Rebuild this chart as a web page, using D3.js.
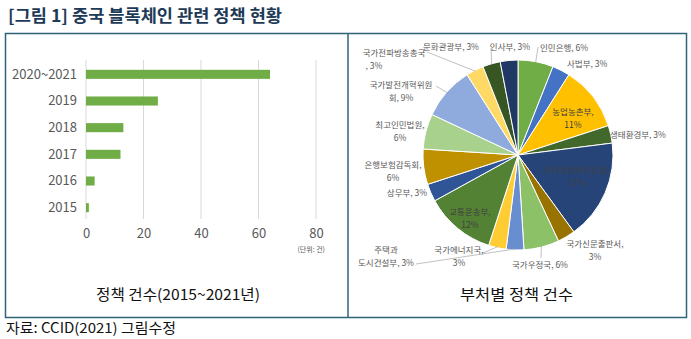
<!DOCTYPE html>
<html><head><meta charset="utf-8">
<script src="https://cdn.jsdelivr.net/npm/d3@7"></script>
<style>
body{margin:0;background:#fff;}
text{font-family:"Noto Sans CJK KR","Noto Sans",sans-serif;}
</style></head>
<body><svg id="c" width="691" height="339"></svg>
<script>
// ---- data ----
const years = ["2020~2021","2019","2018","2017","2016","2015"];
const policyCounts = [64,25,13,12,3,1];
const xTicks = [0,20,40,60,80];

const ministries = ["인민은행","사법부","농업농촌부","생태환경부","인터넷정보판공실","국가신문출판서","국가우정국",
  "주택과 도시건설부","국가에너지국","교통운송부","상무부","은행보험감독회","최고인민법원","국가발전개혁위원회",
  "국가전파방송총국","문화관광부","인사부"];
const shares = [6,3,11,3,17,3,6,3,3,12,3,6,6,9,3,3,3];
const sliceColors = ["#70ad47","#4472c4","#ffc000","#43682b","#264478","#997300","#8cc168",
  "#698ed0","#ffcd33","#548235","#2f5597","#bf9000","#a9d18e","#8faadc","#ffd966","#375623","#203864"];

// ---- layout ----
const svg = d3.select("#c");
svg.append("rect").attr("width",691).attr("height",339).attr("fill","#fff");

svg.append("text").attr("x",8).attr("y",22).attr("font-size",17).attr("font-weight","bold")
  .attr("fill","#1d3a57").attr("textLength",274).attr("lengthAdjust","spacingAndGlyphs")
  .text("[그림 1] 중국 블록체인 관련 정책 현황");

svg.append("rect").attr("x",5.5).attr("y",33.5).attr("width",681).attr("height",284)
  .attr("fill","none").attr("stroke","#2f6479").attr("stroke-width",1.5);
svg.append("line").attr("x1",348).attr("x2",348).attr("y1",33.5).attr("y2",317.5)
  .attr("stroke","#2f6479").attr("stroke-width",1.5);

// ---- bar chart ----
const x = d3.scaleLinear().domain([0,80]).range([86,316]);
const y = d3.scaleBand().domain(years).range([61,221]).paddingInner(0.66).paddingOuter(0.33);

const g = svg.append("g");
g.selectAll(".grid").data(xTicks).join("line")
  .attr("x1",d=>x(d)).attr("x2",d=>x(d)).attr("y1",60).attr("y2",219)
  .attr("stroke","#d9d9d9").attr("stroke-width",1);

const xAxis = d3.axisBottom(x).tickValues(xTicks).tickSize(0).tickPadding(0);
const xa = g.append("g").attr("transform","translate(0,238)").call(xAxis);
xa.select(".domain").remove();
xa.selectAll("text").attr("font-size",13).attr("fill","#595959")
  .attr("font-family","Roboto, 'Noto Sans', sans-serif").attr("dy",0).attr("y",0);

const yAxis = d3.axisLeft(y).tickSize(0).tickPadding(0);
const ya = g.append("g").attr("transform","translate(77,0)").call(yAxis);
ya.select(".domain").remove();
ya.selectAll("text").attr("font-size",13).attr("fill","#595959")
  .attr("font-family","Roboto, 'Noto Sans', sans-serif");

g.selectAll(".bar").data(policyCounts).join("rect")
  .attr("x",x(0)).attr("y",(d,i)=>y(years[i]))
  .attr("width",d=>x(d)-x(0)).attr("height",y.bandwidth())
  .attr("fill","#70ad47");

g.append("text").attr("x",325).attr("y",252).attr("text-anchor","end")
  .attr("font-size",7).attr("fill","#595959").text("(단위: 건)");

// ---- pie ----
const cx = 518, cy = 155, R = 95;
const pie = d3.pie().sort(null).value(d=>d);
const arcs = pie(shares);
const arc = d3.arc().innerRadius(0).outerRadius(R);
const pg = svg.append("g").attr("transform",`translate(${cx},${cy})`);
pg.selectAll("path").data(arcs).join("path")
  .attr("d",arc).attr("fill",(d,i)=>sliceColors[i])
  .attr("stroke","#fff").attr("stroke-width",1);

const labelLayout = {
  "인민은행":{lines:["인민은행, 6%"],x:540,y:51,anchor:"start",lead:[538,47]},
  "사법부":{lines:["사법부, 3%"],x:567,y:67,anchor:"start"},
  "농업농촌부":{lines:["농업농촌부,","11%"],x:573,y:115,anchor:"middle",inside:true},
  "생태환경부":{lines:["생태환경부, 3%"],x:610,y:138,anchor:"start"},
  "인터넷정보판공실":{lines:["인터넷정보판공실,","17%"],x:577,y:173,anchor:"middle",inside:true},
  "국가신문출판서":{lines:["국가신문출판서,","3%"],x:595,y:247,anchor:"middle"},
  "국가우정국":{lines:["국가우정국, 6%"],x:540,y:268,anchor:"middle",lead:[541,258]},
  "주택과 도시건설부":{lines:["주택과","도시건설부, 3%"],x:386,y:253,anchor:"middle",lead:[416,264]},
  "국가에너지국":{lines:["국가에너지국,","3%"],x:459,y:253,anchor:"middle",lead:[483,253]},
  "교통운송부":{lines:["교통운송부,","12%"],x:470,y:215,anchor:"middle",inside:true},
  "상무부":{lines:["상무부, 3%"],x:407,y:196,anchor:"middle"},
  "은행보험감독회":{lines:["은행보험감독회,","6%"],x:393,y:168,anchor:"middle"},
  "최고인민법원":{lines:["최고인민법원,","6%"],x:400,y:128,anchor:"middle"},
  "국가발전개혁위원회":{lines:["국가발전개혁위원","회, 9%"],x:401,y:88,anchor:"middle",lead:[436,86]},
  "국가전파방송총국":{lines:["국가전파방송총국",", 3%"],x:394,y:56,anchor:"middle",lead:[427,52],dx2:-20},
  "문화관광부":{lines:["문화관광부, 3%"],x:451,y:50,anchor:"middle",lead:[491,48]},
  "인사부":{lines:["인사부, 3%"],x:510,y:50,anchor:"middle"}
};

const lg = svg.append("g");
arcs.forEach((a,i)=>{
  const L = labelLayout[ministries[i]];
  if(L.lead){
    const mid = (a.startAngle+a.endAngle)/2;
    const ex = cx + R*0.99*Math.sin(mid), ey = cy - R*0.99*Math.cos(mid);
    lg.append("line").attr("x1",L.lead[0]).attr("y1",L.lead[1]).attr("x2",ex).attr("y2",ey)
      .attr("stroke","#a6a6a6").attr("stroke-width",0.7);
  }
  const t = lg.append("text").attr("text-anchor",L.anchor).attr("font-size",8.5)
    .attr("fill",L.inside?"#404040":"#595959");
  L.lines.forEach((ln,k)=>{
    t.append("tspan").attr("x",L.x+(k===1&&L.dx2?L.dx2:0)).attr("y",L.y+k*12.5).text(ln);
  });
});

// ---- captions ----
svg.append("text").attr("x",96).attr("y",300).attr("font-size",15).attr("fill","#111")
  .attr("textLength",164).attr("lengthAdjust","spacingAndGlyphs").text("정책 건수(2015~2021년)");
svg.append("text").attr("x",460).attr("y",300).attr("font-size",15).attr("fill","#111")
  .attr("textLength",113).attr("lengthAdjust","spacingAndGlyphs").text("부처별 정책 건수");
svg.append("text").attr("x",6).attr("y",333).attr("font-size",14).attr("fill","#111")
  .attr("textLength",170).attr("lengthAdjust","spacingAndGlyphs").text("자료: CCID(2021) 그림수정");
</script></body></html>
